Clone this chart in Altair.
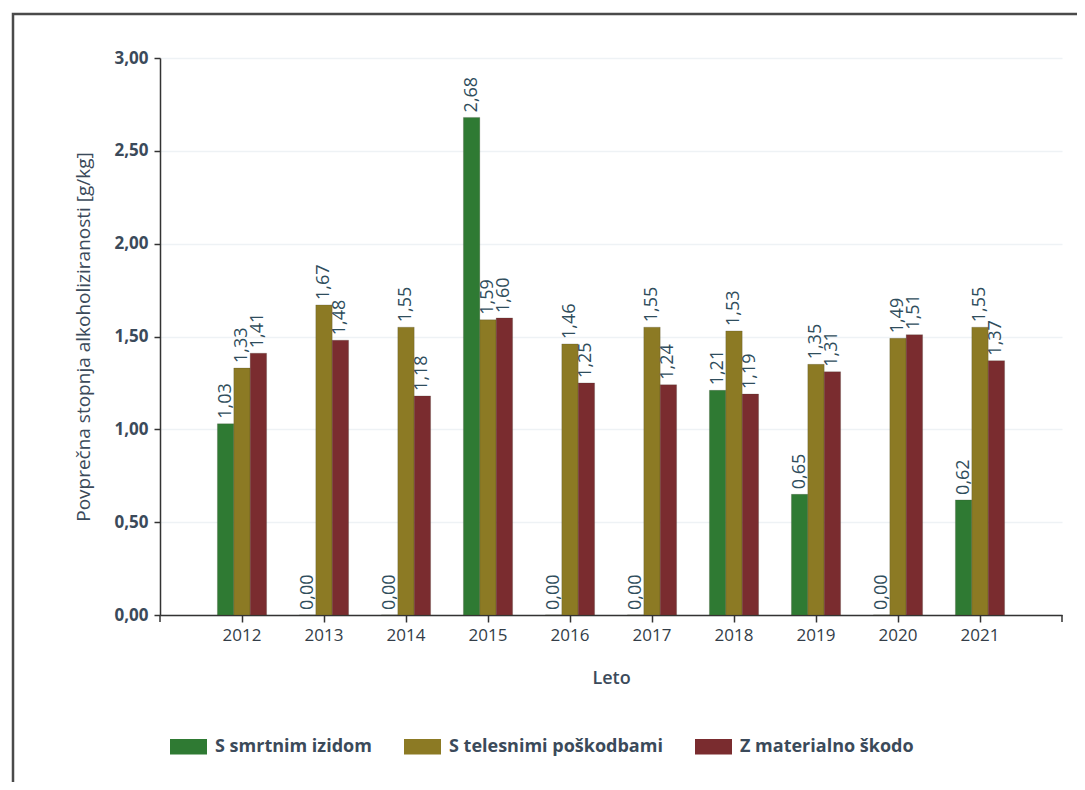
import altair as alt
import pandas as pd

years = [str(y) for y in range(2012, 2022)]
series = ["S smrtnim izidom", "S telesnimi poškodbami", "Z materialno škodo"]
smrt = [1.03, 0.00, 0.00, 2.68, 0.00, 0.00, 1.21, 0.65, 0.00, 0.62]
telesne = [1.33, 1.67, 1.55, 1.59, 1.46, 1.55, 1.53, 1.35, 1.49, 1.55]
materialna = [1.41, 1.48, 1.18, 1.60, 1.25, 1.24, 1.19, 1.31, 1.51, 1.37]
colors = ["#2f7a33", "#8c7a24", "#7a2c2f"]
y_ticks = [0, 0.5, 1.0, 1.5, 2.0, 2.5, 3.0]

rows = []
for vals, s in zip([smrt, telesne, materialna], series):
    for yr, v in zip(years, vals):
        rows.append({"Leto": yr, "Serija": s, "val": v,
                     "label": f"{v:.2f}".replace(".", ",")})
df = pd.DataFrame(rows)

W, H = 902, 557
FONT = "Open Sans"
TXT = "#3b4a5a"

x_enc = alt.X("Leto:N", sort=years,
              scale=alt.Scale(paddingInner=0.4, paddingOuter=0.7),
              axis=alt.Axis(title="Leto", labelAngle=0, labelFontSize=17,
                            labelFont=FONT, labelColor="#333d48", labelPadding=5,
                            titleFontSize=18, titleFont=FONT, titleColor=TXT,
                            titleFontWeight=600, titlePadding=26,
                            tickSize=7, tickColor="#333", domainColor="#333",
                            domainWidth=1.5, tickWidth=1.5, grid=False))
xo_enc = alt.XOffset("Serija:N", sort=series,
                     scale=alt.Scale(paddingInner=0, paddingOuter=0))
y_enc = alt.Y("val:Q", scale=alt.Scale(domain=[0, 3]),
              axis=alt.Axis(title="Povprečna stopnja alkoholiziranosti [g/kg]",
                            values=y_ticks,
                            labelExpr="replace(format(datum.value, '.2f'), '.', ',')",
                            labelFontSize=17, labelFont=FONT, labelFontWeight="bold",
                            labelColor=TXT, labelPadding=6,
                            titleFontSize=19, titleFont=FONT, titleColor=TXT,
                            titleFontWeight="normal", titlePadding=20,
                            tickSize=6, tickColor="#333", domainColor="#333",
                            domainWidth=1.5, tickWidth=1.5,
                            grid=True, gridColor="#eef2f5", gridWidth=1.5))

bars = alt.Chart(df).mark_bar(strokeWidth=0.6, stroke="#3a3a2a", strokeOpacity=0.35).encode(
    x=x_enc, xOffset=xo_enc, y=y_enc,
    color=alt.Color("Serija:N", sort=series,
                    scale=alt.Scale(domain=series, range=colors),
                    legend=alt.Legend(orient="none", legendX=10, legendY=670,
                                      direction="horizontal", title=None,
                                      symbolType="M-1,-0.42H1V0.42H-1Z",
                                      symbolSize=1369, symbolStrokeWidth=0,
                                      symbolOpacity=1, labelLimit=0,
                                      labelFontSize=18, labelFont=FONT,
                                      labelFontWeight="bold", labelColor=TXT,
                                      labelOffset=8, columnPadding=32)),
)

labels = alt.Chart(df).mark_text(angle=270, align="left", baseline="middle",
                                 dx=5, fontSize=18, font=FONT, fontWeight=500,
                                 color="#2f4d5c").encode(
    x=x_enc, xOffset=xo_enc, y=y_enc, text="label:N")

one = alt.Data(values=[{"k": 1}])
end_ticks = alt.layer(
    alt.Chart(one).mark_rule(color="#333", strokeWidth=1.5).encode(
        x=alt.value(0), y=alt.value(H), y2=alt.value(H + 7)),
    alt.Chart(one).mark_rule(color="#333", strokeWidth=1.5).encode(
        x=alt.value(W), y=alt.value(H), y2=alt.value(H + 7)),
)

frame = alt.Chart(one).mark_rect(filled=False, stroke="#4a4a4a", strokeWidth=2.5).encode(
    x=alt.value(-147), x2=alt.value(960), y=alt.value(-44), y2=alt.value(760))

chart = alt.layer(frame, bars, labels, end_ticks).properties(
    width=W, height=H,
    autosize=alt.AutoSizeParams(type="none"),
    padding={"left": 152, "top": 50, "right": 15, "bottom": 167},
).configure_view(stroke=None)

chart.save("out.html", embed_options={"renderer": "svg", "actions": False})
